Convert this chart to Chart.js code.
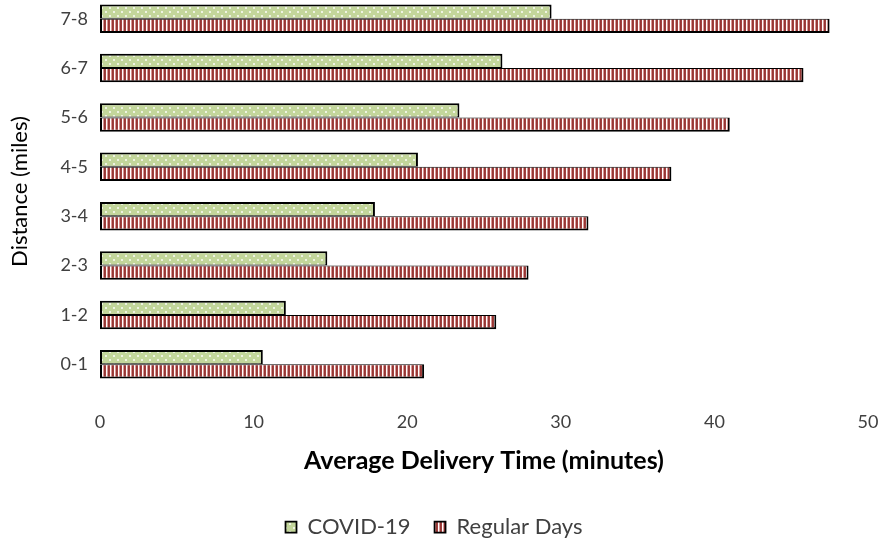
<!DOCTYPE html>
<html><head><meta charset="utf-8">
<script src="https://cdn.jsdelivr.net/npm/chart.js@4.4.0/dist/chart.umd.min.js"></script>
<style>
html,body{margin:0;padding:0;background:#fff;}
#wrap{position:relative;width:888px;height:546px;overflow:hidden;background:#fff;}
#c{position:absolute;left:0;top:-6px;}
</style></head><body>
<div id="wrap"><canvas id="c" width="888" height="554" style="width:888px;height:554px"></canvas></div>
<script>
// ---- data ----
const categories = ['0-1','1-2','2-3','3-4','4-5','5-6','6-7','7-8'];
const covidValues = [10.6, 12.1, 14.8, 17.9, 20.7, 23.4, 26.2, 29.4];
const regularValues = [21.1, 25.8, 27.9, 31.8, 37.2, 41.0, 45.8, 47.5];
const xTickValues = [0, 10, 20, 30, 40, 50];
const seriesNames = ['COVID-19', 'Regular Days'];
const xTitle = 'Average Delivery Time (minutes)';
const yTitle = 'Distance (miles)';

const FONT = 'Lato, "Open Sans", sans-serif';
const canvas = document.getElementById('c');
const ctx = canvas.getContext('2d');

function makeDotPattern() {
  const p = document.createElement('canvas');
  p.width = 8; p.height = 8;
  const g = p.getContext('2d');
  g.fillStyle = '#C3D69B'; g.fillRect(0, 0, 8, 8);
  g.fillStyle = '#EEF3E2';
  g.fillRect(1, 1, 2, 2);
  g.fillRect(5, 5, 2, 2);
  return ctx.createPattern(p, 'repeat');
}
function makeStripePattern() {
  const p = document.createElement('canvas');
  p.width = 4; p.height = 4;
  const g = p.getContext('2d');
  const cols = ['#943634', '#A2403E', '#FFFFFF', '#D99694'];
  cols.forEach((c, i) => { g.fillStyle = c; g.fillRect(i, 0, 1, 4); });
  return ctx.createPattern(p, 'repeat');
}

// top-to-bottom order for the category axis
const yLabels = categories.slice().reverse();
const covidData = covidValues.slice().reverse();
const regularData = regularValues.slice().reverse();

new Chart(ctx, {
  type: 'bar',
  data: {
    labels: yLabels,
    datasets: [
      {
        label: seriesNames[0],
        data: covidData,
        backgroundColor: makeDotPattern(),
        borderColor: '#000000',
        borderWidth: {top: 2, left: 2, right: 2, bottom: 1},
        borderSkipped: false,
        categoryPercentage: 0.575,
        barPercentage: 1.0
      },
      {
        label: seriesNames[1],
        data: regularData,
        backgroundColor: makeStripePattern(),
        borderColor: '#000000',
        borderWidth: {top: 1, left: 2, right: 2, bottom: 2},
        borderSkipped: false,
        categoryPercentage: 0.575,
        barPercentage: 1.0
      }
    ]
  },
  options: {
    responsive: false,
    animation: false,
    devicePixelRatio: 1,
    indexAxis: 'y',
    layout: {padding: {left: 0, right: 20, top: 0, bottom: 0}},
    scales: {
      x: {
        type: 'linear',
        position: 'bottom',
        min: xTickValues[0],
        max: xTickValues[xTickValues.length - 1],
        afterBuildTicks: (s) => { s.ticks = xTickValues.map(v => ({value: v})); },
        grid: {display: false, drawTicks: false},
        border: {display: false},
        ticks: {padding: 22, color: '#404040', font: {family: FONT, size: 18}},
        title: {display: true, text: xTitle, color: '#000000',
                font: {family: FONT, size: 25, weight: 'bold'},
                padding: {top: 0, bottom: 16}},
        afterFit: (s) => { s.height = 103; s.paddingLeft = 0; s.paddingRight = 0; }
      },
      y: {
        type: 'category',
        offset: true,
        grid: {display: false, drawTicks: false},
        border: {display: false},
        ticks: {padding: 12, color: '#404040', font: {family: FONT, size: 18}},
        title: {display: true, text: yTitle, color: '#000000',
                font: {family: FONT, size: 22},
                padding: {top: 7, bottom: 0}},
        afterFit: (s) => { s.width = 100; s.paddingTop = 0; s.paddingBottom = 0; }
      }
    },
    plugins: {
      legend: {
        position: 'bottom',
        labels: {boxWidth: 11, boxHeight: 11, padding: 24, color: '#404040',
                 font: {family: FONT, size: 22}}
      },
      tooltip: {enabled: false}
    }
  }
});
</script>
</body></html>
